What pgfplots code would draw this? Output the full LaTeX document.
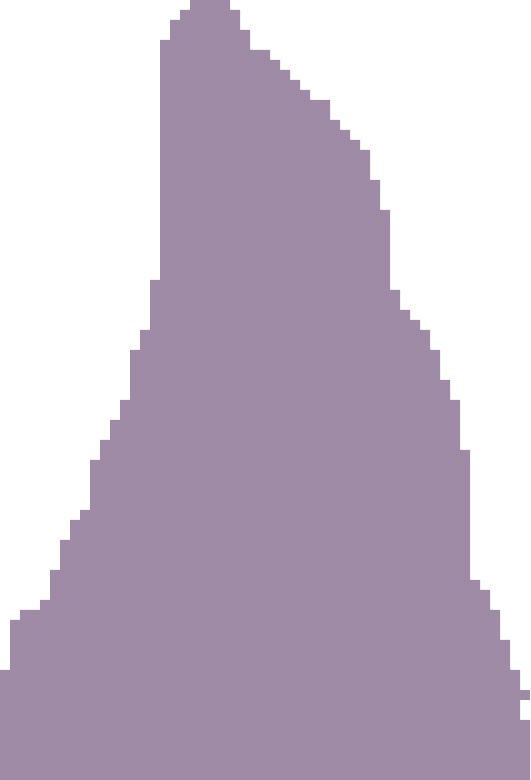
\documentclass[border=0pt]{standalone}
\usepackage{pgfplots}
\pgfplotsset{compat=1.18}
\definecolor{histfill}{RGB}{159,139,165}
\begin{document}
\begin{tikzpicture}
\begin{axis}[
    scale only axis,
    width=5.3cm,
    height=7.8cm,
    xmin=0, xmax=53,
    ymin=0, ymax=780,
    hide axis,
]
% stepped histogram outline, one bin per unit
\addplot[const plot, fill=histfill, draw=none]
    coordinates {
    (0,110)(1,160)(2,170)(3,170)(4,180)(5,210)(6,240)(7,260)(8,270)(9,320)
    (10,340)(11,360)(12,380)(13,430)(14,450)(15,500)(16,740)(17,760)(18,770)(19,780)
    (20,780)(21,780)(22,780)(23,770)(24,750)(25,730)(26,730)(27,720)(28,710)(29,700)
    (30,690)(31,680)(32,680)(33,660)(34,650)(35,640)(36,630)(37,600)(38,570)(39,490)
    (40,470)(41,460)(42,450)(43,430)(44,400)(45,380)(46,330)(47,200)(48,190)(49,170)
    (50,140)(51,110)(52,60)(53,60)
    } \closedcycle;
% small detached piece in the last bin
\addplot[fill=histfill, draw=none]
    coordinates {(52,80)(53,80)(53,90)(52,90)} -- cycle;
\end{axis}
\end{tikzpicture}
\end{document}
